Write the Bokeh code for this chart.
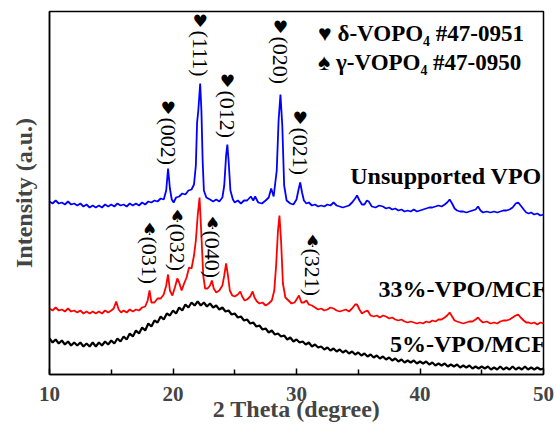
import numpy as np
from bokeh.plotting import figure
from bokeh.models import Range1d, FixedTicker, ColumnDataSource
from bokeh.core.properties import value
from bokeh.embed import file_html
from bokeh.resources import INLINE

# ---------------- data ----------------
blue_2theta = [10.0, 10.25, 10.5, 10.75, 11.0, 11.25, 11.5, 11.75, 12.0, 12.25, 12.5, 12.75,
               13.0, 13.25, 13.5, 13.75, 14.0, 14.25, 14.5, 14.75, 15.0, 15.25, 15.5, 15.75,
               16.0, 16.25, 16.5, 16.75, 17.0, 17.25, 17.5, 17.75, 18.0, 18.25, 18.5, 18.75,
               19.0, 19.25, 19.45, 19.6, 19.75, 19.9, 20.05, 20.25, 20.5, 20.75, 21.0, 21.25,
               21.5, 21.7, 21.85, 21.95, 22.05, 22.2, 22.3, 22.4, 22.5, 22.7, 23.0, 23.25,
               23.5, 23.75, 24.0, 24.15, 24.3, 24.4, 24.5, 24.65, 24.85, 25.0, 25.25, 25.5,
               25.75, 26.0, 26.3, 26.5, 26.65, 26.9, 27.2, 27.5, 27.75, 27.95, 28.15, 28.4,
               28.55, 28.7, 28.85, 29.0, 29.2, 29.5, 29.75, 30.0, 30.15, 30.3, 30.45, 30.6,
               30.8, 31.0, 31.25, 31.5, 31.75, 32.0, 32.25, 32.5, 32.75, 33.0, 33.25, 33.5,
               33.75, 34.0, 34.25, 34.5, 34.75, 34.9, 35.1, 35.3, 35.5, 35.7, 35.85, 36.1,
               36.4, 36.7, 37.0, 37.25, 37.5, 37.75, 38.0, 38.25, 38.5, 38.75, 39.0, 39.25,
               39.5, 39.75, 40.0, 40.25, 40.5, 40.75, 41.0, 41.25, 41.5, 41.75, 42.0, 42.2,
               42.4, 42.6, 42.8, 43.0, 43.25, 43.5, 43.75, 44.0, 44.25, 44.5, 44.7, 44.9,
               45.1, 45.4, 45.7, 46.0, 46.25, 46.5, 46.75, 47.0, 47.25, 47.5, 47.75, 47.95,
               48.15, 48.4, 48.6, 48.8, 49.0, 49.25, 49.5, 49.75, 50.0]
blue_int = [173, 171, 174, 171, 172, 170, 173, 170, 171, 169, 171, 168,
            170, 167, 169, 167, 169, 167, 170, 168, 170, 168, 171, 169,
            170, 168, 171, 169, 171, 169, 172, 170, 173, 172, 174, 173,
            176, 175, 184, 206, 186, 175, 172, 177, 178, 181, 180, 184,
            185, 190, 209, 252, 264, 291, 264, 214, 184, 177, 175, 173,
            175, 173, 177, 189, 219, 230, 214, 184, 175, 172, 174, 171,
            174, 174, 178, 174, 178, 172, 171, 174, 177, 186, 178, 204,
            254, 280, 249, 189, 174, 171, 170, 175, 184, 192, 182, 174,
            171, 172, 169, 170, 168, 169, 168, 170, 169, 172, 169, 168,
            167, 168, 169, 172, 176, 179, 174, 170, 170, 174, 173, 168,
            167, 169, 168, 166, 167, 165, 166, 164, 165, 163, 164, 163,
            165, 163, 164, 165, 166, 167, 167, 168, 169, 168, 170, 172,
            175, 171, 166, 164, 163, 163, 162, 163, 164, 165, 168, 164,
            162, 163, 162, 163, 162, 163, 164, 164, 165, 167, 171, 172,
            169, 165, 162, 161, 162, 160, 161, 159, 160]

red_2theta = [10.0, 10.25, 10.5, 10.75, 11.0, 11.25, 11.5, 11.75, 12.0, 12.25, 12.5, 12.75,
              13.0, 13.25, 13.5, 13.75, 14.0, 14.25, 14.5, 14.75, 15.0, 15.2, 15.4, 15.6,
              15.8, 16.0, 16.25, 16.5, 16.75, 17.0, 17.25, 17.5, 17.75, 17.95, 18.1, 18.25,
              18.5, 18.75, 19.0, 19.25, 19.45, 19.6, 19.75, 19.95, 20.15, 20.35, 20.5, 20.7,
              20.9, 21.1, 21.3, 21.5, 21.7, 21.85, 22.0, 22.15, 22.3, 22.45, 22.6, 22.8,
              23.0, 23.15, 23.3, 23.5, 23.75, 24.0, 24.15, 24.3, 24.45, 24.6, 24.8, 25.0,
              25.25, 25.45, 25.6, 25.8, 26.0, 26.25, 26.45, 26.6, 26.8, 27.0, 27.25, 27.5,
              27.75, 28.0, 28.2, 28.35, 28.5, 28.62, 28.75, 28.9, 29.1, 29.35, 29.6, 29.85,
              30.05, 30.2, 30.4, 30.6, 30.8, 31.0, 31.25, 31.5, 31.75, 32.0, 32.25, 32.5,
              32.75, 33.0, 33.25, 33.5, 33.75, 34.0, 34.25, 34.5, 34.75, 34.9, 35.1, 35.3,
              35.55, 35.75, 36.0, 36.25, 36.5, 36.75, 37.0, 37.25, 37.5, 37.75, 38.0, 38.25,
              38.5, 38.75, 39.0, 39.25, 39.5, 39.75, 40.0, 40.25, 40.5, 40.75, 41.0, 41.25,
              41.5, 41.75, 42.0, 42.2, 42.4, 42.6, 42.8, 43.0, 43.25, 43.5, 43.75, 44.0,
              44.25, 44.5, 44.7, 44.9, 45.1, 45.4, 45.7, 46.0, 46.25, 46.5, 46.75, 47.0,
              47.25, 47.5, 47.75, 47.95, 48.15, 48.4, 48.6, 48.8, 49.0, 49.25, 49.5, 49.75,
              50.0]
red_int = [66, 64, 67, 64, 65, 63, 66, 63, 64, 62, 64, 61,
           63, 61, 63, 61, 63, 61, 64, 62, 64, 66, 73, 65,
           62, 64, 62, 65, 63, 65, 64, 67, 68, 74, 84, 72,
           72, 76, 76, 80, 89, 100, 84, 79, 87, 96, 92, 84,
           91, 97, 107, 106, 119, 134, 159, 177, 139, 99, 86, 86,
           89, 94, 86, 82, 84, 89, 99, 111, 99, 84, 79, 78,
           80, 83, 78, 74, 75, 78, 83, 77, 73, 71, 72, 69,
           71, 74, 84, 109, 144, 159, 134, 91, 77, 74, 71, 72,
           76, 79, 72, 72, 74, 70, 69, 67, 65, 66, 64, 65,
           67, 66, 64, 63, 64, 65, 63, 66, 70, 70, 65, 61,
           63, 64, 59, 58, 59, 57, 59, 58, 56, 57, 55, 54,
           55, 53, 52, 53, 52, 51, 52, 51, 53, 52, 54, 53,
           55, 55, 57, 59, 62, 58, 54, 53, 52, 51, 52, 53,
           53, 55, 57, 54, 52, 53, 51, 52, 51, 53, 54, 54,
           55, 57, 59, 60, 57, 54, 52, 52, 51, 52, 50, 52,
           51]

black_2theta = list(np.round(np.arange(10.0, 50.001, 0.25), 2))
black_int = [36, 32, 35, 31, 34, 30, 33, 29, 32, 29,
             32, 28, 31, 28, 32, 28, 32, 29, 33, 30,
             34, 31, 36, 33, 38, 35, 41, 38, 44, 41,
             47, 44, 51, 48, 54, 52, 58, 55, 61, 59,
             64, 61, 67, 64, 70, 67, 72, 69, 73, 69,
             72, 68, 71, 67, 69, 65, 67, 63, 64, 60,
             61, 57, 58, 54, 55, 51, 52, 48, 49, 45,
             46, 42, 44, 40, 41, 38, 39, 35, 37, 33,
             35, 32, 33, 30, 32, 28, 30, 27, 28, 25,
             27, 24, 26, 23, 25, 22, 24, 21, 23, 20,
             22, 19, 21, 18, 20, 17, 19, 16, 18, 15,
             17, 14, 16, 13, 15, 12, 14, 12, 14, 11,
             13, 11, 13, 10, 12, 9, 11, 9, 11, 8,
             10, 8, 10, 7, 9, 7, 9, 6, 8, 6,
             8, 6, 8, 5, 7, 5, 8, 5, 7, 5,
             8, 5, 7, 5, 8, 5, 7, 5, 7, 5,
             6]

# peak annotations: delta-VOPO4 (hearts) on the blue pattern, gamma-VOPO4 (spades) on the red one
delta_pos = [19.6, 22.2, 24.4, 28.7, 30.3]
delta_hkl = ["(002)", "(111)", "(012)", "(020)", "(021)"]
delta_mark_h = [267, 354, 294, 348, 257]
gamma_pos = [18.1, 20.36, 23.2, 31.3]
gamma_hkl = ["(031)", "(032)", "(040)", "(321)"]
gamma_mark_h = [146, 159, 152, 134]

sample_names = ["Unsupported VPO", "33%-VPO/MCF", "5%-VPO/MCF"]
sample_label_h = [199, 86, 31]

x_ticks = [10, 20, 30, 40, 50]
x_minor = [15, 25, 35, 45]

# ---------------- figure ----------------
SERIF = "Liberation Serif"
p = figure(width=556, height=429, output_backend="svg", toolbar_location=None,
           x_range=Range1d(10, 50), y_range=Range1d(0, 363),
           min_border_left=49, min_border_right=13, min_border_top=11, min_border_bottom=55)
p.background_fill_color = "white"
p.border_fill_color = "white"
p.xgrid.visible = False
p.ygrid.visible = False
p.outline_line_color = "black"
p.outline_line_width = 1.5

p.line(black_2theta, black_int, line_color="black", line_width=2.2)
p.line(red_2theta, red_int, line_color="#ff0000", line_width=1.8)
p.line(blue_2theta, blue_int, line_color="#0000ff", line_width=1.8)

# hkl labels (rotated) and symbols
d_src = ColumnDataSource(dict(x=delta_pos, t=delta_hkl, mh=delta_mark_h,
                              th=[h - 10 for h in delta_mark_h], s=["\u2665"] * len(delta_pos)))
g_src = ColumnDataSource(dict(x=gamma_pos, t=gamma_hkl, mh=gamma_mark_h,
                              th=[h - 8 for h in gamma_mark_h], s=["\u2660"] * len(gamma_pos)))
for src in (d_src, g_src):
    p.text(x="x", y="mh", text="s", source=src, text_align="center", text_baseline="middle",
           text_font=value("DejaVu Sans"), text_font_size="17px", text_color="black")
    p.text(x="x", y="th", text="t", source=src, angle=-np.pi / 2, text_align="left",
           text_baseline="middle", text_font=value(SERIF), text_font_size="22px",
           text_color="black")

# sample names
p.text(x=[49.85, 50.25, 50.2], y=sample_label_h, text=sample_names, text_align="right",
       text_baseline="middle", text_font=value(SERIF), text_font_style="bold",
       text_font_size="24px", text_color="black")

# reference-card legend
p.text(x=[31.75, 31.75], y=[341, 312],
       text=["\u2665 \u03b4-VOPO\u2084 #47-0951", "\u2660 \u03b3-VOPO\u2084 #47-0950"],
       text_align="left", text_baseline="middle", text_font=value(SERIF),
       text_font_style="bold", text_font_size="23px", text_color="black")

# axes
xa = p.xaxis[0]
xa.ticker = FixedTicker(ticks=x_ticks, minor_ticks=x_minor)
xa.axis_label = "2 Theta (degree)"
xa.axis_label_text_font = SERIF
xa.axis_label_text_font_style = "bold"
xa.axis_label_text_font_size = "24px"
xa.axis_label_standoff = -8
xa.major_label_text_font = SERIF
xa.major_label_text_font_style = "bold"
xa.major_label_text_font_size = "21px"
xa.major_label_standoff = 12
xa.major_tick_in = 6
xa.major_tick_out = 0
xa.minor_tick_in = 5
xa.minor_tick_out = 0
xa.axis_line_width = 1.5
xa.major_tick_line_width = 1.5
xa.minor_tick_line_width = 1.5

ya = p.yaxis[0]
ya.ticker = FixedTicker(ticks=[])
ya.major_label_text_font_size = "0px"
ya.major_tick_line_color = None
ya.minor_tick_line_color = None
ya.axis_label = "Intensity (a.u.)"
ya.axis_label_text_font = SERIF
ya.axis_label_text_font_style = "bold"
ya.axis_label_text_font_size = "24px"
ya.axis_label_standoff = 13
ya.axis_line_width = 1.5

open("out.html", "w").write(file_html(p, INLINE))
